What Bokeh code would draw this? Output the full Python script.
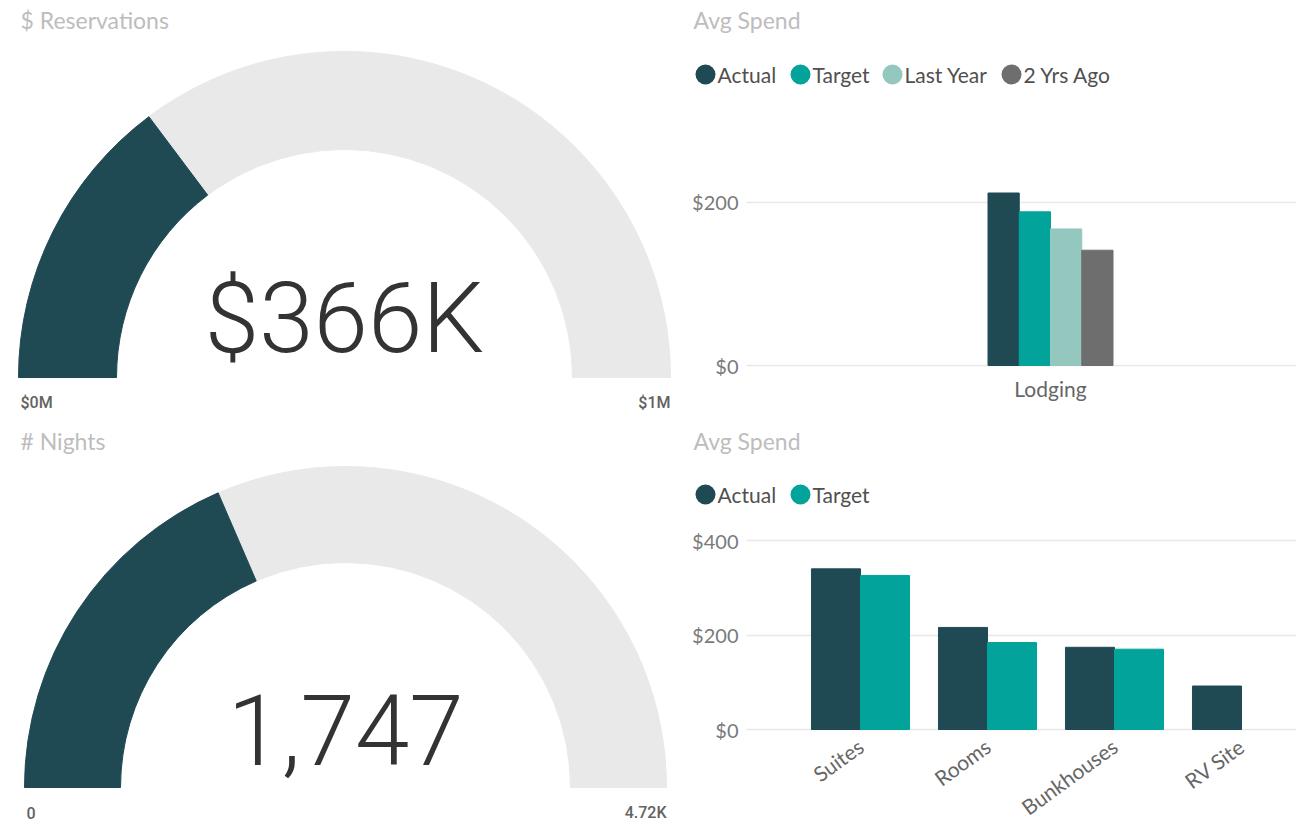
import math
from bokeh.plotting import figure
from bokeh.layouts import row, column
from bokeh.models import Range1d, ColumnDataSource, FixedTicker, PrintfTickFormatter
from bokeh.core.properties import value
from bokeh.embed import file_html
from bokeh.resources import INLINE

# ---------------- data ----------------
res_title = "$ Reservations"
res_value = 366000
res_min = 0
res_max = 1240000
res_text = "$366K"
res_labels = ["$0M", "$1M"]

nights_title = "# Nights"
nights_value = 1747
nights_min = 0
nights_max = 4720
nights_text = "1,747"
nights_labels = ["0", "4.72K"]

spend_title = "Avg Spend"
lodging_categories = ["Lodging"]
lodging_series = ["Actual", "Target", "Last Year", "2 Yrs Ago"]
lodging_values = [211, 188, 167, 141]
lodging_ticks = [0, 200]

unit_categories = ["Suites", "Rooms", "Bunkhouses", "RV Site"]
unit_series = ["Actual", "Target"]
unit_actual = [340, 216, 174, 92]
unit_target = [326, 184, 170, float("nan")]
unit_ticks = [0, 200, 400]

series_colors = ["#1f4a54", "#01a39a", "#94c7bd", "#6e6e6e"]
gauge_bg = "#e9e9e9"
gauge_fg = "#1f4a54"

# ---------------- layout / styling ----------------
TITLE_COLOR = "#bdbdbd"
TEXT_FONT = "Lato"
BIG_FONT = "Roboto Light"
LEFT_W, RIGHT_W = 684, 612
TOP_H, BOT_H = 425, 398
RIGHT_X0 = 684


def base_fig(w, h, xr, yr, **kw):
    p = figure(width=w, height=h, x_range=xr, y_range=yr, toolbar_location=None,
               output_backend="svg", **kw)
    p.outline_line_color = None
    p.background_fill_color = "white"
    p.border_fill_color = "white"
    return p


def gauge(y_top, h, cx, cy, r_out, r_in, val, vmin, vmax, big_text, big_y, labels, title, title_y):
    # pixel units, origin at the gauge centre
    xr = Range1d(0 - cx, LEFT_W - cx)
    yr = Range1d(cy - (y_top + h), cy - y_top)
    p = base_fig(LEFT_W, h, xr, yr, min_border=0, x_axis_location=None, y_axis_location=None)
    p.xgrid.visible = False
    p.ygrid.visible = False
    p.annular_wedge(x=[0], y=[0], inner_radius=r_in, outer_radius=r_out,
                    start_angle=0, end_angle=math.pi, color=gauge_bg)
    frac = (val - vmin) / (vmax - vmin)
    p.annular_wedge(x=[0], y=[0], inner_radius=r_in, outer_radius=r_out,
                    start_angle=math.pi * (1 - frac), end_angle=math.pi, color=gauge_fg)
    p.text(x=[0], y=[cy - big_y], text=[big_text], text_font=value(BIG_FONT),
           text_font_size="98px", text_align="center", text_baseline="middle",
           text_color="#333333")
    p.text(x=[-r_out + 2, r_out], y=[-25, -25], text=labels, text_font=value("Roboto Medium"),
           text_font_size="16px", text_align=["left", "right"], text_baseline="middle",
           text_color="#636363")
    p.text(x=[20 - cx], y=[cy - title_y], text=[title],
           text_font=value(TEXT_FONT), text_font_size="23px", text_align="left",
           text_baseline="middle", text_color=TITLE_COLOR)
    return p


def bar_panel(y_top, h, base_py, px_per_200, ppu, anchor_px, ticks, cats,
              orientation, standoff, series, title_y, legend_y):
    per_px = 200.0 / px_per_200

    def xd(px):
        return (px - anchor_px) / ppu

    def yd(py):
        return (base_py - py) * per_px

    xr = Range1d(xd(RIGHT_X0), xd(RIGHT_X0 + RIGHT_W))
    yr = Range1d(yd(y_top + h), yd(y_top))
    p = base_fig(RIGHT_W, h, xr, yr, min_border=0)
    # axes drawn at fixed places inside the frame
    p.yaxis.fixed_location = xd(746)
    p.xaxis.fixed_location = 0
    p.xgrid.visible = False
    p.ygrid.grid_line_color = "#e8e8e8"
    p.ygrid.grid_line_width = 1.5
    try:
        p.ygrid[0].cross_bounds = (xd(746), xd(RIGHT_X0 + RIGHT_W))
    except Exception:
        pass
    p.yaxis.ticker = FixedTicker(ticks=ticks)
    p.yaxis.formatter = PrintfTickFormatter(format="$%d")
    p.xaxis.ticker = FixedTicker(ticks=list(range(len(cats))))
    p.xaxis.major_label_overrides = {i: c for i, c in enumerate(cats)}
    p.xaxis.major_label_orientation = orientation
    for ax in (p.xaxis, p.yaxis):
        ax.axis_line_color = None
        ax.major_tick_line_color = None
        ax.minor_tick_line_color = None
        ax.major_label_text_font = TEXT_FONT
        ax.major_label_text_font_size = "20px"
        ax.major_label_text_color = "#7a7a7a"
    p.yaxis.major_label_standoff = 2
    p.xaxis.major_label_standoff = standoff
    p.xaxis.major_label_text_font_size = "21px"
    p.xaxis.major_label_text_color = "#666666"
    # title
    p.text(x=[xd(693)], y=[yd(title_y)], text=[spend_title], text_font=value(TEXT_FONT),
           text_font_size="23px", text_align="left", text_baseline="middle",
           text_color=TITLE_COLOR)
    # legend
    n = len(series)
    circle_px = [705, 800, 892, 1011][:n]
    p.scatter(x=[xd(c) for c in circle_px], y=[yd(legend_y)] * n, size=20, marker="circle",
              fill_color=series_colors[:n], line_color=None)
    p.text(x=[xd(c + 12) for c in circle_px], y=[yd(legend_y)] * n, text=series,
           text_font=value(TEXT_FONT), text_font_size="21px", text_align="left",
           text_baseline="middle", text_color="#505050")
    return p


# ---------- gauges ----------
g1 = gauge(0, TOP_H, 344, 377, 326, 228, res_value, res_min, res_max, res_text, 318,
           res_labels, res_title, 19)
g2 = gauge(TOP_H, BOT_H, 345, 787, 321, 225, nights_value, nights_min, nights_max,
           nights_text, 729, nights_labels, nights_title, 440)

# ---------- Avg Spend by lodging ----------
b1 = bar_panel(0, TOP_H, 365, 163.5, 156.25, 1050, lodging_ticks, lodging_categories,
               "horizontal", 4, lodging_series, 19, 74)
bw1 = 0.2
n1 = len(lodging_series)
src1 = ColumnDataSource(dict(
    x=[(i - (n1 - 1) / 2) * bw1 for i in range(n1)],
    top=lodging_values, color=series_colors[:n1]))
b1.vbar(x="x", top="top", width=bw1, color="color", source=src1)

# ---------- Avg Spend by unit ----------
b2 = bar_panel(TOP_H, BOT_H, 729, 94.5, 127.0, 860, unit_ticks, unit_categories,
               math.pi / 5, 8, unit_series, 440, 494)
bw2 = 0.386
idx = list(range(len(unit_categories)))
b2.vbar(x=[i - bw2 / 2 for i in idx], top=unit_actual, width=bw2, color=series_colors[0])
b2.vbar(x=[i + bw2 / 2 for i in idx], top=unit_target, width=bw2, color=series_colors[1])

layout = row(column(g1, g2), column(b1, b2))
open("out.html", "w").write(file_html(layout, INLINE))
